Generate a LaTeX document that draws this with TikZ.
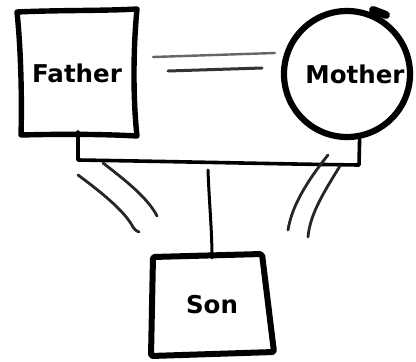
\documentclass[tikz,border=0pt]{standalone}
\usepackage{fontspec}
\setmainfont{DejaVu Sans}
\begin{document}
\begin{tikzpicture}[x=1pt,y=-1pt,
  outline/.style={line width=5.4pt, line join=round, line cap=round},
  link/.style={line width=3.6pt, line cap=round, line join=round},
  pair/.style={line width=2.8pt, line cap=round, black!85},
  lbl/.style={font=\fontsize{24.5}{28}\selectfont\bfseries, inner sep=0pt}]
\useasboundingbox[fill=white] (0,0) rectangle (416,362);
% Father
\node[lbl, minimum width=120pt, minimum height=125pt] (father) at (77,73) {Father};
\draw[outline] (17,12) .. controls (60,10) and (100,11) .. (137,9)
  .. controls (133,50) and (133,100) .. (137,136)
  .. controls (100,134) and (60,134) .. (21,135)
  .. controls (22,100) and (21,50) .. cycle;
% Mother
\node[circle, draw, outline, line width=6.2pt, minimum size=126pt, inner sep=0pt] (mother) at (347,74) {};
\node[lbl] (mtext) at (355,74) {Mother};
\coordinate (blobA) at (373,10);
\coordinate (blobB) at (386,15);
\draw[line width=8pt, line cap=round] (blobA) -- (blobB);
% marriage double line
\coordinate (d1a) at (153,57); \coordinate (d1b) at (275,53);
\coordinate (d2a) at (168,71); \coordinate (d2b) at (262,68);
\draw[line width=2.4pt, line cap=round, black!60] (d1a) -- (d1b);
\draw[line width=3pt, line cap=round, black!80] (d2a) -- (d2b);
% Son
\node[lbl, minimum width=115pt, minimum height=98pt] (son) at (212,305) {Son};
\draw[outline, line width=6pt, rounded corners=2pt] (153,257) -- (262,254) -- (274,352) -- (151,356) -- cycle;
% bracket
\coordinate (bl) at (78,160);
\coordinate (br) at (359,165);
\draw[link] ([xshift=1pt,yshift=4pt]father.south) -- (bl) .. controls (200,162) and (280,164) .. (br) -- (mother.-79);
% stem
\coordinate (stemtop) at (208,170);
\draw[link, line width=3pt] (stemtop) .. controls (209,200) and (212,230) .. ([yshift=-2pt]son.north);
% side strokes
\coordinate (l1a) at (78,175); \coordinate (l1b) at (139,232);
\coordinate (l2a) at (103,163); \coordinate (l2b) at (157,216);
\coordinate (r1a) at (328,155); \coordinate (r1b) at (288,230);
\coordinate (r2a) at (340,166); \coordinate (r2b) at (308,237);
\draw[pair] (l1a) .. controls (105,195) and (125,212) .. (133,227) .. controls (135,230) .. (l1b);
\draw[pair] (l2a) .. controls (125,180) and (148,198) .. (l2b);
\draw[pair] (r1a) .. controls (308,180) and (292,205) .. (r1b);
\draw[pair] (r2a) .. controls (322,195) and (310,215) .. (r2b);
\end{tikzpicture}
\end{document}
